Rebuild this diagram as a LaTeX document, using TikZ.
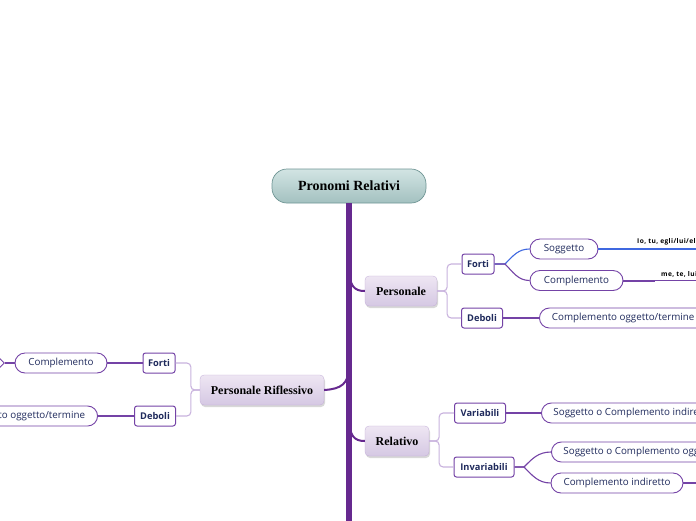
\documentclass[tikz,border=0pt]{standalone}
\usepackage{fontspec}
\newfontfamily\nodefont{Open Sans}
\newfontfamily\titlefont{Liberation Serif}
\usetikzlibrary{shapes.geometric,shadows}
\definecolor{trunkc}{HTML}{66298F}
\definecolor{purp}{HTML}{7443A6}
\definecolor{lpurp}{HTML}{C9B3DE}
\definecolor{navy}{HTML}{1F2A5C}
\definecolor{bluel}{HTML}{3F68E0}
\definecolor{roottop}{HTML}{D2E4E3}
\definecolor{rootbot}{HTML}{A3C1C0}
\definecolor{rootdraw}{HTML}{6F9594}
\definecolor{lavtop}{HTML}{EEE6F3}
\definecolor{lavbot}{HTML}{D5C8E3}
\tikzset{
  rootbox/.style={rounded corners=15pt, draw=rootdraw, line width=0.7pt,
    top color=roottop, bottom color=rootbot, minimum width=154pt, minimum height=34pt,
    inner sep=0pt, font=\titlefont\bfseries\fontsize{14}{16}\selectfont, text=black},
  lonebox/.style={rounded corners=4pt, draw=lavbot!80!purp, line width=0.3pt,
    top color=lavtop, bottom color=lavbot, minimum height=30pt, inner sep=0pt,
    font=\titlefont\bfseries\fontsize{12}{14}\selectfont, text=black,
    drop shadow={shadow xshift=1pt, shadow yshift=-2pt, opacity=0.3}},
  ltwobox/.style={rounded corners=2.5pt, draw=purp, line width=1pt, fill=white,
    minimum height=20pt, inner sep=0pt, text=navy,
    font=\nodefont\bfseries\fontsize{9.3}{11}\selectfont},
  lthreebox/.style={rounded corners=10pt, draw=purp, line width=0.9pt, fill=white,
    minimum height=20pt, inner ysep=0pt, text=navy,
    font=\nodefont\fontsize{9.8}{11}\selectfont},
  twolink/.style={draw=lpurp, line width=1.1pt, rounded corners=4pt},
  threelink/.style={draw=purp, line width=1.1pt},
  onelink/.style={draw=trunkc, line width=2pt},
  tinytext/.style={font=\nodefont\bfseries\addfontfeatures{LetterSpace=6}\fontsize{6.6}{7}\selectfont, text=black, inner sep=0pt}
}
\begin{document}
\begin{tikzpicture}[x=1pt,y=-1pt]
\useasboundingbox (0,0) rectangle (696,520);
\clip (0,0) rectangle (696,520);
\fill[white] (0,0) rectangle (696,520);

% trunk
\coordinate (tend) at (349,522);
\coordinate (tP) at (349,266);
\coordinate (tR) at (349,416);
\coordinate (tPR) at (349,366);

\node[rootbox] (root) at (349,186) {Pronomi Relativi};
\draw[trunkc, line width=6pt] (root.south) -- (tend);

% level 1
\node[lonebox, minimum width=72pt] (pers) at (401,291) {Personale};
\node[lonebox, minimum width=64pt] (rel) at (397,441) {Relativo};
\node[lonebox, minimum width=124pt] (pr) at (262,390) {Personale Riflessivo};

\draw[onelink] (tP) .. controls (349,286) and (354,291) .. (pers.west);
\draw[onelink] (tR) .. controls (349,436) and (354,441) .. (rel.west);
\draw[onelink] (pr.east) .. controls (341,389) and (349,384) .. (tPR);

% Personale branch
\node[ltwobox, minimum width=32pt] (forti) at (478,264) {Forti};
\node[ltwobox, minimum width=41pt] (deb) at (482,318) {Deboli};
\draw[twolink] (pers.east) -- ++(10,0) |- (forti.west);
\draw[twolink] (pers.east) -- ++(10,0) |- (deb.west);

\node[lthreebox, minimum width=68pt] (sog) at (564,249) {Soggetto};
\node[lthreebox, minimum width=93pt] (comp) at (576.5,280.5) {Complemento};
\node[lthreebox, anchor=west, inner xsep=12.5pt] (cot) at (539,318) {Complemento oggetto/termine};

\draw[threelink, draw=bluel] (forti.east) -- (505,264) .. controls (513,256) and (518,249) .. (sog.west);
\draw[threelink] (forti.east) -- (505,264) .. controls (513,272) and (518,280.5) .. (comp.west);
\draw[threelink] (deb.east) -- (cot.west);

\coordinate (ioend) at (700,249);
\coordinate (meend) at (700,280.5);
\node[tinytext, anchor=base west] (io) at (637,243.5) {Io, tu, egli/lui/ella};
\node[tinytext, anchor=base west] (me) at (661,276) {me, te, lui};
\draw[bluel, line width=2.2pt] (sog.east) -- (633,249);
\draw[bluel, line width=1.1pt] (633,249) -- (ioend);
\draw[purp, line width=2pt] (comp.east) -- (655,280.5);
\draw[purp, line width=1.1pt] (655,280.5) -- (meend);

% Relativo branch
\node[ltwobox, minimum width=51pt] (var) at (480,413) {Variabili};
\node[ltwobox, minimum width=60pt] (inv) at (484,467) {Invariabili};
\draw[twolink] (rel.east) -- ++(10,0) |- (var.west);
\draw[twolink] (rel.east) -- ++(10,0) |- (inv.west);

\node[lthreebox, anchor=west, inner xsep=12pt] (sci) at (541,413) {Soggetto o Complemento indiretto};
\node[lthreebox, anchor=west, inner xsep=12pt] (sco) at (551,452) {Soggetto o Complemento oggetto};
\node[lthreebox, minimum width=132pt] (ci) at (617,483) {Complemento indiretto};
\coordinate (ciend) at (700,483);
\draw[threelink] (var.east) -- (sci.west);
\draw[threelink] (inv.east) -- (524,467) .. controls (532,459) and (538,452) .. (sco.west);
\draw[threelink] (inv.east) -- (524,467) .. controls (532,475) and (538,483) .. (ci.west);
\draw[threelink] (ci.east) -- (ciend);

% Personale Riflessivo branch
\node[ltwobox, minimum width=32pt] (forti2) at (159,363) {Forti};
\node[ltwobox, minimum width=41pt] (deb2) at (155,416) {Deboli};
\draw[twolink] (pr.west) -- ++(-9,0) |- (forti2.east);
\draw[twolink] (pr.west) -- ++(-9,0) |- (deb2.east);

\node[lthreebox, minimum width=92pt] (comp2) at (61,363) {Complemento};
\node[lthreebox, anchor=east, inner xsep=12.5pt] (cot2) at (98,416) {Complemento oggetto/termine};
\draw[threelink] (forti2.west) -- (comp2.east);
\draw[threelink] (deb2.west) -- (cot2.east);

\node[diamond, draw=purp, line width=0.9pt, minimum size=9pt, inner sep=0pt] (mk) at (0,363) {};
\draw[threelink] (comp2.west) -- (mk.east);
\end{tikzpicture}
\end{document}
